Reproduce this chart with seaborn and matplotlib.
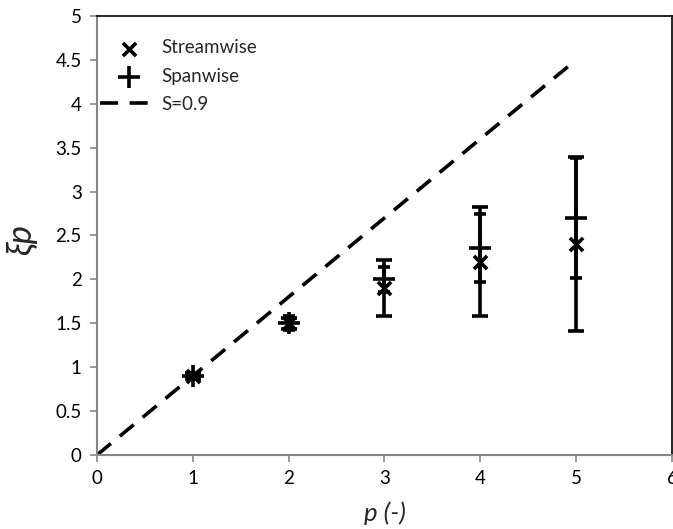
import matplotlib
matplotlib.use("Agg")
import matplotlib.pyplot as plt
import seaborn as sns
import numpy as np
import pandas as pd

# Structure-function exponent data
p_values = [1, 2, 3, 4, 5]
stream_xi = [0.9, 1.5, 1.9, 2.2, 2.4]
stream_err = [0.03, 0.06, 0.32, 0.62, 0.99]
span_xi = [0.9, 1.5, 2.0, 2.36, 2.70]
span_err = [0.03, 0.08, 0.14, 0.39, 0.68]
slope = 0.9
line_p = [0, 5]

sns.set_style("ticks")
plt.rcParams["font.family"] = ["Lato", "DejaVu Sans"]

fig = plt.figure(figsize=(6.73, 5.29), dpi=100)
ax = fig.add_axes([0.1441, 0.1399, 0.8544, 0.8299])

df_line = pd.DataFrame({"p": line_p, "xi": [slope * v for v in line_p]})
sns.lineplot(data=df_line, x="p", y="xi", ax=ax, color="black", lw=2.6,
             dashes=False, linestyle=(0, (5, 3.2)), label="S=0.9", zorder=2)

# error bars: streamwise (wide caps) and spanwise (narrow caps)
ax.errorbar(p_values, stream_xi, yerr=stream_err, fmt="none", ecolor="black",
            elinewidth=2.6, capsize=6, capthick=2.6, zorder=3)
ax.errorbar(p_values, span_xi, yerr=span_err, fmt="none", ecolor="black",
            elinewidth=2.6, capsize=4.5, capthick=2.6, zorder=3)

df = pd.DataFrame({"p": p_values + p_values,
                   "xi": stream_xi + span_xi,
                   "dir": ["Streamwise"] * 5 + ["Spanwise"] * 5})
sns.scatterplot(data=df[df.dir == "Streamwise"], x="p", y="xi", ax=ax,
                marker="x", s=90, color="black", linewidth=2.6,
                label="Streamwise", zorder=4)
sns.scatterplot(data=df[df.dir == "Spanwise"], x="p", y="xi", ax=ax,
                marker="+", s=230, color="black", linewidth=2.6,
                label="Spanwise", zorder=4)

ax.set_xlim(0, 6)
ax.set_ylim(0, 5)
ax.set_xticks(range(0, 7))
ax.set_yticks(np.arange(0, 5.01, 0.5))
ax.set_yticklabels(["0", "0.5", "1", "1.5", "2", "2.5", "3", "3.5", "4", "4.5", "5"])

gray = "#868686"
for s in ["left", "bottom"]:
    ax.spines[s].set_color(gray)
    ax.spines[s].set_linewidth(1.5)
for s in ["top", "right"]:
    ax.spines[s].set_visible(True)
    ax.spines[s].set_color("black")
    ax.spines[s].set_linewidth(1.2)
ax.tick_params(axis="both", direction="out", length=5, width=1.2, color=gray,
               labelsize=13.5, labelcolor="black", pad=6)

ax.set_xlabel("p (-)", fontsize=18.5, style="italic")
ax.xaxis.set_label_coords(0.5, -0.105)
ax.set_ylabel("ξp", fontsize=25, style="italic")
ax.yaxis.set_label_coords(-0.105, 0.49)

handles, labels = ax.get_legend_handles_labels()
order = [labels.index(n) for n in ["Streamwise", "Spanwise", "S=0.9"]]
ax.legend([handles[i] for i in order], [labels[i] for i in order],
          loc="upper left", bbox_to_anchor=(-0.012, 0.97), frameon=False,
          fontsize=13.5, handlelength=3.0, handletextpad=0.25,
          labelspacing=0.6, borderaxespad=0.15)

fig.savefig("out.png", dpi=100)
